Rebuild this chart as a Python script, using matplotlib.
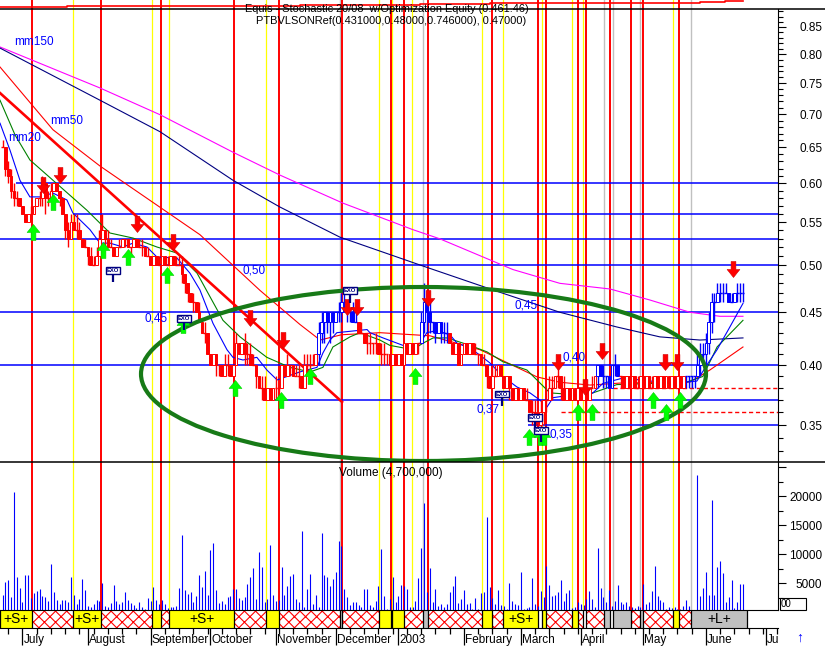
import numpy as np
import pandas as pd
import matplotlib
matplotlib.use("Agg")
import matplotlib.pyplot as plt
import matplotlib.transforms as mtransforms
from matplotlib.path import Path
from matplotlib.patches import Ellipse, Rectangle
from matplotlib.lines import Line2D
from matplotlib.ticker import FixedLocator, FixedFormatter, NullFormatter

plt.rcParams['font.family'] = ['Liberation Sans', 'DejaVu Sans']
plt.rcParams['hatch.linewidth'] = 0.8

# ==============================================================
# DATA  (x = trading day, 0 = 1 July 2002 ; first bar = 20 June 2002)
# ==============================================================
FIRST_BAR = -7

# daily bars in cents
bar_low = [65, 61, 60, 58, 57, 57, 57,
           56, 55, 55, 56, 56, 57, 57, 57, 56, 57,
           58, 59, 59, 57, 56, 53, 52, 54, 54, 53,
           53, 52, 52, 50, 50, 50, 50, 52, 53, 52,
           52, 52, 51, 51, 52, 52, 52, 52, 51, 52,
           52, 52, 51, 51, 51, 50, 50, 50, 50, 50,
           50, 50, 50, 50, 50, 50, 48, 47, 46, 46,
           45, 45, 44, 43, 42, 41, 40, 40, 39, 39,
           39, 39, 39, 39, 39, 40, 41, 41, 40, 40,
           40, 40, 38, 38, 37, 37, 37, 37, 37, 37,
           37, 39, 39, 39, 39, 39, 39, 38, 38, 39,
           39, 39, 40, 40, 40, 42, 42, 43, 42, 43,
           44, 44, 44, 45, 44, 44, 44, 44, 43, 43,
           42, 41, 41, 41, 41, 41, 40, 40, 40, 40,
           40, 40, 40, 40, 41, 41, 41, 41, 41, 41,
           42, 43, 43, 43, 43, 42, 43, 42, 42, 42,
           42, 41, 41, 40, 40, 41, 41, 41, 41, 41,
           40, 40, 40, 38, 38, 39, 39, 39, 39, 38,
           38, 37, 37, 37, 37, 37, 37, 37, 36, 35,
           35, 34, 34, 35, 36, 37, 37, 38, 38, 37,
           37, 37, 37, 37, 37, 37, 37, 37, 36, 37,
           38, 38, 38, 39, 38, 38, 38, 39, 39, 39,
           38, 38, 38, 38, 38, 38, 38, 38, 38, 38,
           38, 38, 38, 38, 38, 38, 38, 38, 38, 38,
           38, 38, 38, 38, 38, 38, 38, 39, 39, 40,
           40, 41, 43, 44, 46, 46, 46, 47, 46, 46,
           46, 46, 46, 46]
bar_high = [66, 64, 63, 62, 60, 59, 58,
            57, 56, 56, 57, 57, 58, 59, 61, 60, 59,
            60, 60, 60, 59, 58, 56, 55, 56, 56, 56,
            55, 53, 53, 52, 52, 51, 52, 54, 56, 54,
            54, 53, 52, 52, 53, 53, 53, 53, 52, 53,
            53, 53, 53, 52, 52, 51, 51, 51, 51, 51,
            51, 51, 51, 51, 51, 51, 51, 49, 48, 47,
            47, 46, 46, 44, 44, 43, 41, 41, 41, 40,
            40, 41, 41, 40, 40, 43, 42, 42, 43, 42,
            42, 41, 40, 39, 39, 39, 38, 38, 38, 39,
            38, 40, 40, 41, 40, 40, 40, 40, 39, 41,
            41, 41, 41, 41, 44, 45, 45, 45, 45, 45,
            45, 46, 47, 47, 46, 45, 46, 45, 44, 44,
            43, 43, 43, 42, 43, 42, 42, 42, 41, 41,
            41, 41, 41, 41, 42, 42, 42, 42, 42, 42,
            45, 48, 47, 46, 44, 44, 44, 44, 44, 44,
            43, 42, 42, 41, 41, 42, 42, 42, 42, 42,
            41, 41, 41, 40, 39, 40, 40, 40, 40, 39,
            39, 38, 38, 38, 38, 38, 38, 38, 37, 37,
            37, 36, 37, 37, 38, 39, 39, 39, 40, 39,
            39, 38, 38, 38, 38, 38, 38, 38, 38, 38,
            39, 39, 40, 40, 40, 39, 39, 40, 41, 40,
            39, 39, 39, 39, 39, 39, 39, 39, 39, 39,
            39, 39, 39, 39, 39, 39, 39, 39, 39, 39,
            39, 39, 39, 39, 39, 39, 39, 41, 42, 42,
            43, 45, 47, 47, 48, 48, 48, 48, 47, 47,
            47, 48, 48, 48]
bar_close = [65, 62, 61, 59, 58, 58, 57,
             56, 55, 56, 56, 57, 58, 58, 60, 58, 58,
             59, 60, 59, 58, 56, 54, 53, 55, 54, 54,
             53, 52, 52, 51, 50, 50, 51, 53, 54, 53,
             52, 52, 51, 52, 52, 53, 53, 52, 52, 53,
             52, 52, 52, 51, 51, 50, 51, 50, 50, 51,
             50, 50, 51, 50, 50, 50, 49, 48, 47, 46,
             46, 45, 44, 43, 43, 41, 40, 41, 40, 40,
             39, 40, 40, 39, 40, 42, 41, 42, 41, 41,
             40, 40, 39, 38, 38, 37, 38, 37, 38, 38,
             38, 40, 39, 40, 40, 39, 39, 39, 38, 40,
             40, 40, 40, 41, 43, 44, 45, 44, 45, 44,
             45, 45, 46, 46, 45, 45, 44, 44, 43, 43,
             42, 42, 42, 42, 42, 41, 41, 41, 41, 40,
             41, 40, 41, 40, 42, 41, 42, 41, 42, 42,
             44, 46, 45, 44, 44, 43, 44, 43, 43, 43,
             42, 41, 42, 40, 41, 42, 41, 42, 41, 41,
             41, 40, 40, 39, 38, 39, 39, 40, 39, 38,
             39, 38, 37, 38, 37, 38, 37, 37, 36, 36,
             35, 35, 36, 37, 37, 38, 38, 39, 39, 38,
             37, 38, 37, 38, 37, 38, 37, 38, 37, 38,
             38, 39, 40, 39, 39, 39, 38, 40, 40, 39,
             39, 38, 39, 38, 39, 38, 38, 39, 38, 39,
             38, 38, 39, 38, 39, 38, 39, 38, 39, 38,
             39, 38, 39, 39, 39, 39, 39, 40, 41, 41,
             42, 44, 46, 46, 47, 47, 47, 47, 46, 46,
             47, 47, 47, 47]
blue_spans = [(104, 117), (140, 149), (202, 209), (233, 253)]

# volume, thousands of shares
vol_a = [2.98, 5.28, 5.57, 2.69, 20.8, 6.14, 4.24, 1.83, 6.43, 6.43,
         2.52, 3.38, 3.72, 4.07, 2.81, 2.69, 1.95, 8.33, 3.55, 2.12,
         1.5, 2.12, 2.12, 1.83, 6.14, 2.98, 1.43, 2.24, 5.74, 3.84,
         1.09, 0.97, 1.43, 2.12, 1.95, 5.05, 1.14, 0.97, 1.66, 4.71,
         1.95, 1.43, 1.83, 3.55, 2.12, 1.66, 1.2, 0.79, 1.78, 0.91,
         0.52, 2.52, 1.95, 4.36, 2.12, 1.43, 2.12, 1.43, 0.69, 0.91,
         0.91, 1.14, 4.19, 13.3, 3.9, 3.1, 3.55, 1.8, 2.76, 6.43,
         4.36, 7.17, 2.93, 10.7, 11.9, 3.9, 1.66, 1.95, 1.43, 2.7,
         2.81, 4.07, 4.0, 2.5, 2.12, 2.7, 4.88, 6.14, 7.69, 2.35,
         10.4, 7.8, 1.78, 2.35, 11.6, 2.93, 1.95, 2.12, 7.8, 3.0,
         4.5, 6.3, 6.6, 2.3, 1.78, 14.0, 0.91, 4.07, 6.6, 1.43,
         2.93, 0.91, 13.7, 6.43, 6.1, 4.5, 5.74, 7.0, 12.3, 11.4,
         4.07, 2.7, 1.3, 1.78, 1.78, 1.26, 0.97, 4.07, 4.07, 1.26,
         1.0, 1.95, 4.5, 10.9, 2.8, 0.6, 2.24, 6.1, 1.8, 2.8]
vol_b = [4.7, 4.5, 4.0, 0.97, 0.97, 1.95, 5.9, 11.1, 18.8, 3.5,
         7.6, 1.8, 4.0, 1.1, 1.4, 1.0, 1.4, 3.5, 4.5, 6.3,
         1.6, 2.3, 3.8, 1.4, 1.6, 0.57, 2.5, 0.57, 3.3, 3.5,
         16.4, 4.4, 2.5, 1.4, 3.8, 1.26, 1.1, 0.57, 5.05, 1.95,
         1.4, 1.2, 6.9, 0.57, 0.74, 0.9, 5.9, 1.4, 1.1, 3.7,
         2.6, 8.0, 4.7, 2.8, 3.0, 3.5, 5.6, 2.0, 3.3, 3.8,
         0.74, 0.9, 1.8, 1.4, 1.3, 2.35, 3.7, 2.35, 0.97, 11.1,
         4.2, 2.6, 1.8, 3.8, 1.1, 1.95, 4.7, 1.8, 1.5, 1.8,
         1.1, 0.9, 0.74, 1.1, 0.9, 4.9, 1.4, 1.8, 3.7, 8.0,
         2.8, 2.2, 1.8, 0.57, 1.0, 0.74, 0.9, 0.6, 0.6, 1.1,
         2.2, 1.1, 0.3, 0.3, 23.7, 2.8, 4.2, 6.9, 3.0, 19.4,
         3.0, 7.8, 8.8, 6.8, 1.7, 2.6, 5.6, 0.8, 1.7, 4.9,
         4.9]

# moving averages (day, price)
ma_mag_k = [-7.9, 27.2, 48.3, 73.9, 90.4, 112.5, 137.1, 146.6, 172.2, 188.7, 206.3, 220.3, 234.4, 244.9, 253.0]
ma_mag_p = [0.813, 0.742, 0.699, 0.643, 0.611, 0.574, 0.541, 0.530, 0.495, 0.480, 0.474, 0.4625, 0.450, 0.446, 0.446]
ma_navy_k = [-7.9, 27.2, 48.3, 73.9, 90.4, 111.5, 139.6, 165.2, 188.7, 208.7, 223.8, 237.9, 253.0]
ma_navy_p = [0.811, 0.722, 0.673, 0.604, 0.569, 0.532, 0.500, 0.473, 0.450, 0.4355, 0.426, 0.423, 0.425]
ma_red_k = [-7.9, 10.7, 27.2, 62.3, 83.4, 97.4, 104.5, 112.0, 125.5, 143.1, 160.6, 180.7, 188.7,
            199.3, 209.8, 234.4, 241.4, 253.0]
ma_red_p = [0.7775, 0.676, 0.6235, 0.535, 0.4725, 0.438, 0.423, 0.428, 0.430, 0.427, 0.414, 0.3896, 0.385,
            0.3826, 0.3843, 0.3852, 0.3957, 0.4165]
ma_green_k = [-7.9, -2.6, 2.6, 10.7, 22.6, 30.7, 38.8, 47.2, 54.2, 61.3, 70.4, 76.4, 85.8, 93.9, 101.0,
              105.5, 109.0, 115.0, 118.5, 125.5, 129.0, 137.1, 140.6, 144.2, 149.1, 157.1, 163.1, 168.7,
              177.1, 185.2, 196.8, 200.3, 208.7, 220.3, 231.9, 238.9, 243.9, 253.0]
ma_green_p = [0.722, 0.668, 0.632, 0.604, 0.565, 0.537, 0.531, 0.5205, 0.5136, 0.491, 0.442, 0.426, 0.407,
              0.398, 0.394, 0.398, 0.4165, 0.426, 0.430, 0.423, 0.418, 0.414, 0.420, 0.425, 0.425, 0.418,
              0.412, 0.403, 0.3957, 0.376, 0.374, 0.376, 0.383, 0.384, 0.384, 0.390, 0.4165, 0.442]
ma_blue_k = [-7.9, -4.4, -0.9, 2.6, 6.1, 10.7, 15.6, 17.7, 23.7, 27.2, 30.7, 35.3, 38.8, 43.7, 47.2,
             54.2, 58.8, 62.3, 66.9, 71.8, 73.9, 77.4, 82.3, 85.8, 89.4, 92.9, 97.4, 103.4, 105.5, 108.0,
             110.4, 113.9, 117.4, 121.0, 122.0, 126.6, 133.6, 137.1, 139.6, 142.0, 145.5, 150.1, 152.6,
             157.1, 160.6, 164.1, 168.7, 173.6, 178.2, 181.7, 184.2, 186.3, 192.2, 196.8, 200.3, 203.8,
             210.9, 220.3, 231.9, 236.8, 240.3, 243.9, 248.4, 253.0]
ma_blue_p = [0.686, 0.646, 0.604, 0.582, 0.582, 0.587, 0.578, 0.5615, 0.541, 0.525, 0.525, 0.5205, 0.525,
             0.5205, 0.509, 0.508, 0.491, 0.473, 0.439, 0.414, 0.407, 0.4046, 0.407, 0.3957, 0.387, 0.390,
             0.394, 0.398, 0.411, 0.423, 0.430, 0.431, 0.432, 0.433, 0.430, 0.425, 0.418, 0.4156, 0.420,
             0.430, 0.432, 0.428, 0.420, 0.4156, 0.409, 0.402, 0.390, 0.381, 0.376, 0.370, 0.3644, 0.372,
             0.374, 0.3726, 0.376, 0.384, 0.3887, 0.386, 0.385, 0.386, 0.400, 0.414, 0.4355, 0.459]
trend_k = [-7.9, 112.2]
trend_p = [0.7337, 0.3685]

# support / resistance
level_p = [0.60, 0.56, 0.53, 0.50, 0.45, 0.40, 0.37, 0.35]
level_from = [-2.3, 17.7, -7.9, 44.8, -7.9, -7.9, 84.5, 177.5]
dash_p = [0.38, 0.36]
dash_from = [207.4, 189.1]
lvl_txt = ['0,50', '0,45', '0,45', '0,40', '0,37', '0,35']
lvl_txt_k = [77.1, 43.0, 172.9, 189.8, 159.6, 184.9]
lvl_txt_p = [0.4934, 0.444, 0.457, 0.4065, 0.362, 0.343]

# signals
sell_k = [7.2, 13.2, 40.2, 52.8, 80.0, 91.6, 113.9, 117.4, 142.4, 188.0, 197.5, 203.5, 225.6, 229.7, 249.5]
sell_p = [0.598, 0.611, 0.548, 0.526, 0.444, 0.423, 0.455, 0.455, 0.4645, 0.403, 0.381, 0.413, 0.403, 0.403, 0.4955]
buy_k = [3.7, 10.8, 28.3, 37.2, 50.8, 56.4, 74.6, 90.8, 101.0, 137.8, 178.0, 181.7, 183.3, 195.0, 200.0,
         221.4, 226.0, 231.0]
buy_p = [0.538, 0.5755, 0.517, 0.509, 0.489, 0.4375, 0.380, 0.370, 0.390, 0.390, 0.341, 0.341, 0.341,
         0.360, 0.360, 0.370, 0.3605, 0.370]
exo_k = [31.8, 56.7, 115.0, 168.4, 179.9, 182.0]
exo_p = [0.494, 0.444, 0.472, 0.375, 0.356, 0.346]

red_days = [3.4, 27.5, 48.5, 74.4, 90.2, 112.3, 129.3, 134.1, 142.5, 164.8, 181.1, 183.7, 194.9, 197.9,
            206.3, 213.8, 217.9, 230.6]
yellow_days = [17.8, 45.4, 51.5, 85.4, 125.1, 129.9, 136.8, 161.5, 168.8, 182.3, 192.8, 196.8, 228.3]
gray_days = [111.4, 140.7, 204.3, 207.4, 216.9, 234.8]

band_edges = [-7.9, 3.44, 17.84, 27.46, 45.37, 48.53, 51.54, 74.37, 85.39, 90.17, 111.38, 112.29, 125.07,
              129.28, 129.85, 134.06, 140.73, 142.49, 161.45, 164.75, 168.82, 181.11, 182.30, 183.71,
              192.84, 194.94, 196.80, 197.86, 204.28, 206.28, 207.44, 213.76, 216.92, 217.87, 228.30,
              230.62, 234.83, 254.28]
band_kind = "SXSXSXSXSXG" + "XSXSXG" + "XSXSWSXSXWXGWGXGXSXG"
band_text = {0: '+S+', 2: '+S+', 6: '+S+', 20: '+S+', 36: '+L+'}

eq_k = [-7.9, 15.6, 76.4, 97.4, 132.5, 139.6, 164.1, 202.8, 211.6, 237.9, 241.4, 246.7, 253.0]
eq_v = [100.0, 100.5, 100.8, 101.2, 101.5, 102.2, 103.2, 103.5, 104.0, 104.2, 104.8, 105.2, 105.2]

assert len(bar_low) == len(bar_high) == len(bar_close) == len(vol_a) + len(vol_b)

# ==============================================================
# FIGURE
# ==============================================================
W, H = 825, 646
fig = plt.figure(figsize=(W / 100, H / 100), dpi=100)


def rect(y0, y1):
    return [0, 1 - y1 / H, 778 / W, (y1 - y0) / H]


ax_top = fig.add_axes(rect(0, 9))
ax = fig.add_axes(rect(9, 462))
ax_vol = fig.add_axes(rect(462, 610))
ax_band = fig.add_axes(rect(610, 628))
XL = (-7.9, 265.3)
for a in (ax_top, ax, ax_vol, ax_band):
    a.set_xlim(*XL)
    for s in a.spines.values():
        s.set_visible(False)
    a.set_xticks([])

# signal verticals
for a in (ax_top, ax, ax_vol):
    for d in yellow_days:
        a.axvline(d, color='#FFFF00', lw=0.9, zorder=1)
    for d in gray_days:
        a.axvline(d, color='#C0C0C0', lw=1.0, zorder=1)
    for d in red_days:
        a.axvline(d, color='#FF0000', lw=1.4, zorder=1)

# equity strip
ax_top.plot(eq_k, eq_v, color='#FF0000', lw=1.2, drawstyle='steps-post', zorder=3)
ax_top.set_ylim(97.5, 106.5)
ax_top.set_yticks([])

# ---------------- price panel ----------------
ax.set_yscale('log')
ax.set_ylim(0.3223, 0.8848)
ax.hlines(level_p, level_from, XL[1], colors='#0000FF', lw=1.1, zorder=2)
ax.hlines(dash_p, dash_from, XL[1], colors='#FF0000', lw=1.0, linestyles=(0, (3, 2)), zorder=2)

ax.plot(ma_mag_k, ma_mag_p, color='#FF00FF', lw=0.8, zorder=3)
ax.plot(ma_navy_k, ma_navy_p, color='#000080', lw=0.8, zorder=3)
ax.plot(ma_red_k, ma_red_p, color='#FF0000', lw=0.8, zorder=3)
ax.plot(ma_green_k, ma_green_p, color='#008000', lw=0.8, zorder=3)
ax.plot(ma_blue_k, ma_blue_p, color='#0000FF', lw=0.8, zorder=3)
ax.plot(trend_k, trend_p, color='#FF0000', lw=1.9, zorder=3)

bar_k = np.arange(len(bar_close)) + FIRST_BAR
lo = np.array(bar_low) / 100
hi = np.array(bar_high) / 100
cl = np.array(bar_close) / 100
op = np.r_[cl[0], cl[:-1]]
is_blue = np.zeros(len(bar_k), bool)
for s, e in blue_spans:
    is_blue |= (bar_k >= s) & (bar_k <= e)
col = np.where(is_blue, '#0000FF', '#FF0000')
ax.vlines(bar_k, lo, hi, colors=col, lw=1.0, zorder=4)
bot = np.minimum(op, cl)
top = np.maximum(op, cl)
flat = (top - bot) < 1e-9
face = np.where(cl < op, col, 'white')
ax.bar(bar_k[~flat], (top - bot)[~flat], bottom=bot[~flat], width=0.95,
       color=face[~flat], edgecolor=col[~flat], lw=0.7, zorder=4)
ax.hlines(cl[flat], bar_k[flat] - 0.5, bar_k[flat] + 0.5, colors=col[flat], lw=1.0, zorder=4)

ax.add_patch(Ellipse((423.5 / 778, (462 - 374) / 453), 565 / 778, 174 / 453, transform=ax.transAxes,
                     fill=False, ec='#177A17', lw=3.0, zorder=5))

down_arrow = Path([(-0.3, 1), (0.3, 1), (0.3, 0), (0.8, 0), (0, -1), (-0.8, 0), (-0.3, 0), (-0.3, 1)],
                  closed=True)
up_arrow = Path([(-0.3, -1), (0.3, -1), (0.3, 0), (0.8, 0), (0, 1), (-0.8, 0), (-0.3, 0), (-0.3, -1)],
                closed=True)
ax.plot(sell_k, sell_p, ls='none', marker=down_arrow, ms=11.5, mfc='#FF0000', mec='#D00000', mew=0.4, zorder=6)
ax.plot(buy_k, buy_p, ls='none', marker=up_arrow, ms=11.5, mfc='#00FF00', mec='#00D000', mew=0.4, zorder=6)

stem = Path([(0, 0), (0, -1)], [Path.MOVETO, Path.LINETO])
ax.plot(exo_k, exo_p, ls='none', marker=stem, ms=17, mec='#000080', mew=1.6, zorder=6)
for k, p in zip(exo_k, exo_p):
    ax.text(k, p, 'EXO', fontsize=4.2, color='#000080', ha='center', va='center', fontweight='bold',
            bbox=dict(boxstyle='square,pad=0.15', fc='white', ec='#000080', lw=1.0), zorder=7)

for t, k, p in zip(lvl_txt, lvl_txt_k, lvl_txt_p):
    ax.text(k, p, t, color='#0000FF', fontsize=8.5, ha='left', va='center', zorder=8)
ax.text(-2.9, 0.822, 'mm150', color='#0000FF', fontsize=8.5, ha='left', va='center')
ax.text(9.7, 0.689, 'mm50', color='#0000FF', fontsize=8.5, ha='left', va='center')
ax.text(-5.1, 0.664, 'mm20', color='#0000FF', fontsize=8.5, ha='left', va='center')

price_major = [0.35, 0.40, 0.45, 0.50, 0.55, 0.60, 0.65, 0.70, 0.75, 0.80, 0.85]
price_minor = [round(0.33 + 0.01 * i, 2) for i in range(56)]
ax.spines['right'].set_visible(True)
ax.yaxis.tick_right()
ax.yaxis.set_major_locator(FixedLocator(price_major))
ax.yaxis.set_major_formatter(FixedFormatter(['%.2f' % v for v in price_major]))
ax.yaxis.set_minor_locator(FixedLocator(price_minor))
ax.yaxis.set_minor_formatter(NullFormatter())
ax.tick_params(axis='y', which='major', length=5.8, width=0.8, labelsize=8.5, pad=26)
ax.tick_params(axis='y', which='minor', length=3.6, width=0.8)
for lab in ax.get_yticklabels():
    lab.set_horizontalalignment('right')

# ---------------- volume panel ----------------
volume = np.array(vol_a + vol_b) * 1000
ax_vol.vlines(bar_k, 0, volume, colors='#0000FF', lw=0.8, zorder=3)
ax_vol.set_ylim(400, 25900)
ax_vol.spines['right'].set_visible(True)
ax_vol.yaxis.tick_right()
ax_vol.yaxis.set_major_locator(FixedLocator([5000, 10000, 15000, 20000, 25000]))
ax_vol.yaxis.set_major_formatter(FixedFormatter(['5000', '10000', '15000', '20000', '']))
ax_vol.yaxis.set_minor_locator(FixedLocator([2500, 7500, 12500, 17500, 22500]))
ax_vol.tick_params(axis='y', which='major', length=5.8, width=0.8, labelsize=8.5, pad=26)
ax_vol.tick_params(axis='y', which='minor', length=3.6, width=0.8)
for lab in ax_vol.get_yticklabels():
    lab.set_horizontalalignment('right')

# ---------------- signal band ----------------
band_fc = {'S': '#FFFF00', 'G': '#C0C0C0', 'W': 'white', 'X': 'white'}
for i, kind in enumerate(band_kind):
    a0, a1 = band_edges[i], band_edges[i + 1]
    ax_band.add_patch(Rectangle((a0, 0), a1 - a0, 1, fc=band_fc[kind], ec='none', lw=0))
    if kind == 'X':
        ax_band.add_patch(Rectangle((a0, 0), a1 - a0, 1, fill=False, ec='#FF0000', hatch='xxx', lw=0))
    if i in band_text:
        ax_band.text((a0 + a1) / 2, 0.48, band_text[i], ha='center', va='center', fontsize=10)
ax_band.vlines(band_edges, 0, 1, colors='black', lw=0.9)
ax_band.set_ylim(0, 1)
ax_band.set_yticks([])
ax_band.spines['top'].set_visible(True)
ax_band.spines['bottom'].set_visible(True)

days = pd.bdate_range('2002-06-20', '2003-07-10')
day_k = np.arange(len(days)) + FIRST_BAR
months = np.asarray(days.month)
new_month = np.r_[False, months[1:] != months[:-1]]
month_k = day_k[new_month]
month_names = ['July', 'August', 'September', 'October', 'November', 'December', '2003',
               'February', 'March', 'April', 'May', 'June', 'Ju']
mondays = day_k[np.asarray(days.weekday) == 0]
ax_band.set_xticks(month_k)
ax_band.set_xticklabels([])
ax_band.set_xticks(mondays, minor=True)
ax_band.tick_params(axis='x', which='major', length=12, width=0.9)
ax_band.tick_params(axis='x', which='minor', length=4.3, width=0.9)
tr = mtransforms.blended_transform_factory(ax_band.transData, ax_band.transAxes)
for k, name in zip(month_k, month_names):
    ax_band.text(k + 0.4, -0.67, name, transform=tr, fontsize=8.5, ha='left', va='center', clip_on=False)

# ---------------- frame & captions ----------------
for yy in (9, 462):
    fig.add_artist(Line2D([0, 1], [1 - yy / H] * 2, transform=fig.transFigure, color='black', lw=1.1))
fig.add_artist(Rectangle((780 / W, 1 - 610 / H), 26 / W, 12 / H, transform=fig.transFigure,
                         fc='white', ec='black', lw=0.8))
fig.text(781 / W, 1 - 604 / H, '00', fontsize=7, va='center', ha='left')
fig.text(800 / W, 1 - 638 / H, '\u2191', color='#0000FF', fontsize=10, fontweight='bold',
         ha='center', va='center')
fig.text(339 / W, 1 - 473 / H, 'Volume (4,700,000)', fontsize=8.5, va='center', ha='left')
fig.text(245 / W, 1 - 8.5 / H, 'Equis - Stochastic 20/08  w/Optimization Equity (0.461.46)',
         fontsize=7.9, va='center', ha='left', zorder=10)
fig.text(256 / W, 1 - 20.5 / H, 'PTBVLSONRef(0.431000,0.48000,0.746000), 0.47000)',
         fontsize=7.9, va='center', ha='left', zorder=10)

fig.savefig('out.png', dpi=100)
